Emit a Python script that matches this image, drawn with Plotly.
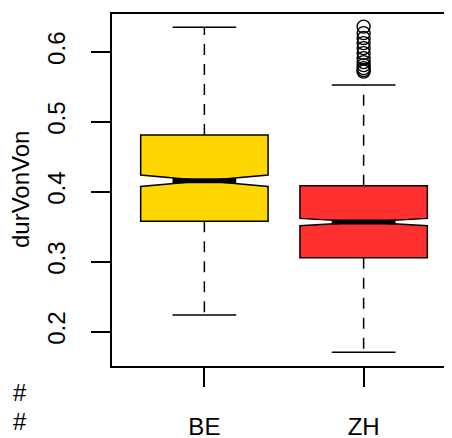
import plotly.graph_objects as go

# ---- data ----
groups = ["BE", "ZH"]
positions = [1, 2]
q1 = [0.358, 0.3057]
median = [0.4157, 0.3567]
q3 = [0.481, 0.4086]
lower_whisker = [0.224, 0.1706]
upper_whisker = [0.6349, 0.5524]
notch_half = [0.0082, 0.0052]
fill_colors = ["#FFD700", "#FF3030"]

zh_outliers = [0.636, 0.6267, 0.6196, 0.6124, 0.6053, 0.5981, 0.591,
               0.5853, 0.581, 0.5767, 0.5739, 0.5717]

y_ticks = [0.2, 0.3, 0.4, 0.5, 0.6]
y_tick_labels = ["0.2", "0.3", "0.4", "0.5", "0.6"]

# ---- style constants ----
BOX_W = 0.8
STAPLE_HALF = BOX_W / 4
LW = 1.5
FONT = dict(family="Liberation Sans, Arial, sans-serif", size=24, color="black")

# page body has an 8px margin; layout numbers below are in figure pixels
L, T, PLOT_BOTTOM, PLOT_H, PLOT_W = 104, 6, 358, 352, 344

fig = go.Figure()

for i, g in enumerate(groups):
    x = positions[i]
    fig.add_trace(go.Box(
        x=[x], q1=[q1[i]], median=[median[i]], q3=[q3[i]],
        lowerfence=[q1[i]], upperfence=[q3[i]],
        notched=True, notchspan=[notch_half[i]], notchwidth=0.5,
        width=BOX_W, fillcolor=fill_colors[i],
        line=dict(color="black", width=LW), whiskerwidth=0,
        boxpoints=False, showlegend=False, hoverinfo="skip", name=g,
    ))
    # thick median
    fig.add_trace(go.Scatter(
        x=[x - STAPLE_HALF, x + STAPLE_HALF], y=[median[i], median[i]],
        mode="lines", line=dict(color="black", width=5),
        showlegend=False, hoverinfo="skip"))
    # dashed whiskers
    for a, b in [(q3[i], upper_whisker[i]), (q1[i], lower_whisker[i])]:
        fig.add_trace(go.Scatter(
            x=[x, x], y=[a, b], mode="lines",
            line=dict(color="black", width=LW, dash="11px,9px"),
            showlegend=False, hoverinfo="skip"))
    # staples
    for w in (upper_whisker[i], lower_whisker[i]):
        fig.add_trace(go.Scatter(
            x=[x - STAPLE_HALF, x + STAPLE_HALF], y=[w, w], mode="lines",
            line=dict(color="black", width=LW),
            showlegend=False, hoverinfo="skip"))

# outliers for ZH
fig.add_trace(go.Scatter(
    x=[positions[1]] * len(zh_outliers), y=zh_outliers, mode="markers",
    marker=dict(symbol="circle-open", size=13, color="black",
                line=dict(width=1.4, color="black")),
    showlegend=False, hoverinfo="skip"))

def px_x(p):
    return (p - L) / PLOT_W

def px_y(p):
    return (PLOT_BOTTOM - p) / PLOT_H

fig.update_layout(
    width=452, height=438,
    margin=dict(l=L, r=452 - L - PLOT_W, t=T, b=438 - PLOT_BOTTOM,
                autoexpand=False),
    paper_bgcolor="white", plot_bgcolor="white",
    font=FONT,
    xaxis=dict(
        range=[0.42, 2.58],
        tickvals=positions, ticktext=groups,
        ticks="outside", ticklen=19, tickwidth=LW, tickcolor="black",
        showline=True, linewidth=LW, linecolor="black", mirror=True,
        showgrid=False, zeroline=False, ticklabelstandoff=19,
        automargin=False,
    ),
    yaxis=dict(
        range=[0.151, 0.654],
        tickvals=y_ticks, ticktext=y_tick_labels, tickangle=-90,
        ticks="outside", ticklen=19, tickwidth=LW, tickcolor="black",
        showline=True, linewidth=LW, linecolor="black",
        showgrid=False, zeroline=False, ticklabelstandoff=17,
        automargin=False,
    ),
    annotations=[
        dict(text="durVonVon", textangle=-90, xref="paper", yref="paper",
             x=px_x(12), y=0.5, showarrow=False, font=FONT,
             xanchor="center", yanchor="middle"),
        dict(text="#", xref="paper", yref="paper", x=px_x(12),
             y=px_y(384), showarrow=False, font=FONT,
             xanchor="center", yanchor="middle"),
        dict(text="#", xref="paper", yref="paper", x=px_x(12),
             y=px_y(413), showarrow=False, font=FONT,
             xanchor="center", yanchor="middle"),
    ],
)

fig.write_html("out.html")
